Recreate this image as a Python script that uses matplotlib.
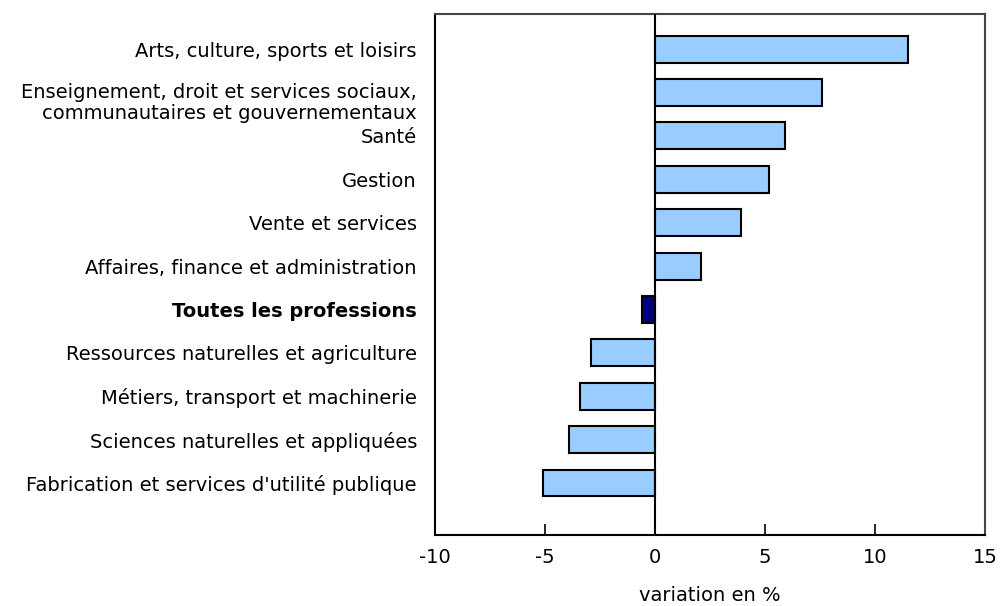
import matplotlib
matplotlib.use("Agg")
import matplotlib.pyplot as plt
import matplotlib.transforms as mtransforms

categories = [
    "Arts, culture, sports et loisirs",
    "Enseignement, droit et services sociaux,\ncommunautaires et gouvernementaux",
    "Santé",
    "Gestion",
    "Vente et services",
    "Affaires, finance et administration",
    "Toutes les professions",
    "Ressources naturelles et agriculture",
    "Métiers, transport et machinerie",
    "Sciences naturelles et appliquées",
    "Fabrication et services d'utilité publique",
]
values = [11.5, 7.6, 5.9, 5.2, 3.9, 2.1, -0.6, -2.9, -3.4, -3.9, -5.1]
highlight = "Toutes les professions"

light = "#99CCFF"
dark = "#000080"

fig = plt.figure(figsize=(10, 6.06), dpi=100)
ax = fig.add_axes([0.435, 0.117, 0.55, 0.86])

pos = list(range(len(categories)))
colors = [dark if c == highlight else light for c in categories]
ax.barh(pos, values, height=0.62, color=colors, edgecolor="black", linewidth=1.5, zorder=2)
ax.axvline(0, color="black", linewidth=1.5, zorder=3)

ax.set_xlim(-10, 15)
ax.set_ylim(11.2, -0.81)
ax.set_xticks([-10, -5, 0, 5, 10, 15])
ax.set_xticklabels(["-10", "-5", "0", "5", "10", "15"], fontsize=14)
ax.tick_params(axis="x", direction="in", length=8, width=1.2, pad=9)
ax.set_yticks(pos)
ax.set_yticklabels(categories, fontsize=14, linespacing=1.1)
ax.tick_params(axis="y", length=0, pad=13)
for lbl in ax.get_yticklabels():
    if lbl.get_text() == highlight:
        lbl.set_fontweight("bold")
    if "\n" in lbl.get_text():
        # the two-line label sits a little lower than its bar
        shift = mtransforms.ScaledTranslation(0, -8 / 100, fig.dpi_scale_trans)
        lbl.set_transform(lbl.get_transform() + shift)

for s in ["left", "top", "bottom", "right"]:
    ax.spines[s].set_linewidth(1.5)
ax.spines["right"].set_color("#444444")
ax.spines["top"].set_color("#444444")

ax.set_xlabel("variation en %", fontsize=14, labelpad=14)

fig.savefig("out.png", dpi=100)
